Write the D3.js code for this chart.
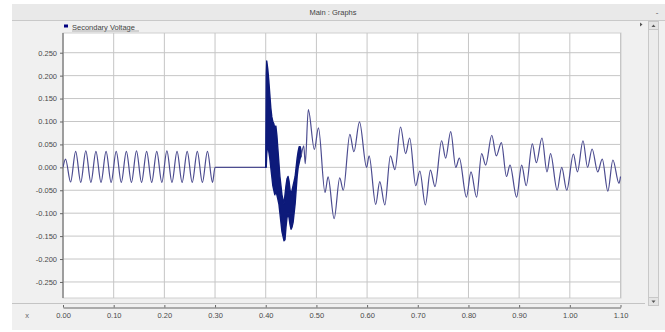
<!DOCTYPE html>
<html>
<head>
<meta charset="utf-8">
<script src="https://cdn.jsdelivr.net/npm/d3@7"></script>
<style>
  html, body { margin: 0; padding: 0; background: #ffffff; }
  svg { display: block; font-family: "Liberation Sans", Arial, sans-serif; }
</style>
</head>
<body>
<svg id="chart" width="665" height="332"></svg>
<script>
// ---------- data ----------
const titleText = "Main : Graphs";
const seriesName = "Secondary Voltage";

const xTickValues = [0, 0.1, 0.2, 0.3, 0.4, 0.5, 0.6, 0.7, 0.8, 0.9, 1.0, 1.1];
const xTickLabels = ["0.00", "0.10", "0.20", "0.30", "0.40", "0.50", "0.60", "0.70", "0.80", "0.90", "1.00", "1.10"];
const yTickValues = [-0.25, -0.2, -0.15, -0.1, -0.05, 0, 0.05, 0.1, 0.15, 0.2, 0.25];
const yTickLabels = ["-0.250", "-0.200", "-0.150", "-0.100", "-0.050", "0.000", "0.050", "0.100", "0.150", "0.200", "0.250"];

// pre-fault steady wave (extrema, seconds / kV)
const preTime = [0, 0.005, 0.015, 0.025, 0.035, 0.045, 0.055, 0.065, 0.075, 0.085, 0.095,
  0.105, 0.115, 0.125, 0.135, 0.145, 0.155, 0.165, 0.175, 0.185, 0.195,
  0.205, 0.215, 0.225, 0.235, 0.245, 0.255, 0.265, 0.275, 0.285, 0.295, 0.300, 0.400];
const preValue = [0, 0.018, -0.032, 0.035, -0.033, 0.036, -0.033, 0.035, -0.033, 0.035, -0.033,
  0.035, -0.033, 0.035, -0.033, 0.036, -0.033, 0.035, -0.033, 0.035, -0.033,
  0.036, -0.033, 0.035, -0.033, 0.035, -0.033, 0.035, -0.033, 0.035, -0.033, 0.0, 0.0];

// fault burst: envelope of the dense high-frequency oscillation
const burstTime = [0.400, 0.401, 0.402, 0.404, 0.406, 0.408, 0.410, 0.412, 0.414, 0.416, 0.418,
  0.420, 0.422, 0.424, 0.426, 0.428, 0.430, 0.432, 0.434, 0.436, 0.438,
  0.440, 0.442, 0.444, 0.446, 0.448, 0.450, 0.452, 0.454, 0.456, 0.458,
  0.460, 0.462, 0.464, 0.466, 0.468, 0.470];
const burstUpper = [0.0, 0.20, 0.232, 0.215, 0.19, 0.16, 0.13, 0.11, 0.10, 0.095, 0.085,
  0.09, 0.07, 0.04, 0.01, -0.02, -0.04, -0.06, -0.07, -0.08, -0.06,
  -0.04, -0.025, -0.02, -0.03, -0.05, -0.06, -0.05, -0.04, -0.03, -0.02,
  0.0, 0.02, 0.035, 0.045, 0.045, 0.035];
const burstLower = [0.0, 0.0, 0.03, 0.05, 0.035, 0.02, 0.0, -0.02, -0.04, -0.05, -0.06,
  -0.05, -0.06, -0.07, -0.08, -0.10, -0.12, -0.14, -0.15, -0.16, -0.158,
  -0.13, -0.11, -0.10, -0.11, -0.125, -0.135, -0.13, -0.12, -0.10, -0.08,
  -0.05, -0.02, 0.0, 0.01, 0.02, 0.025];

// post-fault wave (extrema)
const postTime = [0.470, 0.475, 0.478, 0.484, 0.496, 0.504, 0.517, 0.523, 0.535, 0.546, 0.553,
  0.566, 0.574, 0.585, 0.599, 0.604, 0.617, 0.625, 0.635, 0.646, 0.655,
  0.666, 0.676, 0.684, 0.696, 0.704, 0.715, 0.725, 0.734, 0.747, 0.755,
  0.765, 0.775, 0.782, 0.796, 0.805, 0.816, 0.826, 0.834, 0.846, 0.855,
  0.865, 0.875, 0.882, 0.895, 0.905, 0.914, 0.926, 0.934, 0.945, 0.955,
  0.962, 0.975, 0.984, 0.994, 1.007, 1.015, 1.026, 1.035, 1.044, 1.055,
  1.064, 1.075, 1.085, 1.097, 1.100];
const postValue = [0.025, 0.047, 0.008, 0.126, 0.039, 0.086, -0.055, -0.021, -0.112, -0.023, -0.05,
  0.072, 0.034, 0.099, 0.0, 0.025, -0.081, -0.031, -0.082, 0.025, -0.005,
  0.088, 0.03, 0.064, -0.04, -0.008, -0.082, -0.006, -0.042, 0.058, 0.02,
  0.078, 0.0, 0.02, -0.065, -0.01, -0.065, 0.03, 0.005, 0.07, 0.025,
  0.054, -0.02, 0.005, -0.065, 0.005, -0.04, 0.051, 0.01, 0.064, -0.01,
  0.03, -0.05, 0.0, -0.05, 0.029, -0.01, 0.058, 0.0, 0.04, -0.01,
  0.018, -0.052, 0.016, -0.035, -0.02];

// ---------- drawing ----------
const svg = d3.select("#chart");
const W = 665, H = 332;
const plot = { left: 63, right: 621, top: 33, bottom: 298 };

const x = d3.scaleLinear().domain([0, 1.1]).range([plot.left, plot.right - 0.5]);
const y = d3.scaleLinear().domain([-0.285, 0.293]).range([plot.bottom, plot.top]);

// window backgrounds
svg.append("rect").attr("x", 0).attr("y", 0).attr("width", W).attr("height", H).attr("fill", "#ffffff");
svg.append("rect").attr("x", 12).attr("y", 4).attr("width", W - 12).attr("height", H - 6).attr("fill", "#f0f0f0");
// title bar
svg.append("rect").attr("x", 12).attr("y", 4).attr("width", W - 12).attr("height", 16).attr("fill", "#e9e9e9");
svg.append("line").attr("x1", 12).attr("x2", W).attr("y1", 20.5).attr("y2", 20.5).attr("stroke", "#c9c9c9");
svg.append("text").attr("x", 333).attr("y", 15).attr("text-anchor", "middle")
  .attr("font-size", 7.5).attr("fill", "#444").text(titleText);
svg.append("text").attr("x", 657).attr("y", 15).attr("text-anchor", "middle")
  .attr("font-size", 8).attr("fill", "#555").text("-");

// legend row
svg.append("rect").attr("x", 64).attr("y", 24.5).attr("width", 4).attr("height", 3).attr("fill", "#000080");
svg.append("text").attr("x", 72).attr("y", 29.5).attr("font-size", 7.5).attr("fill", "#444").text(seriesName);
svg.append("line").attr("x1", 72).attr("x2", 139).attr("y1", 31).attr("y2", 31).attr("stroke", "#888").attr("stroke-width", 0.6);

// plot area
svg.append("rect").attr("x", plot.left).attr("y", plot.top)
  .attr("width", plot.right - plot.left).attr("height", plot.bottom - plot.top)
  .attr("fill", "#ffffff").attr("stroke", "#d0d0d0");

// grid
svg.append("g").selectAll("line").data(xTickValues).join("line")
  .attr("x1", d => x(d)).attr("x2", d => x(d)).attr("y1", plot.top).attr("y2", plot.bottom)
  .attr("stroke", "#c6c6c6").attr("stroke-width", 1);
svg.append("g").selectAll("line").data(yTickValues).join("line")
  .attr("x1", plot.left).attr("x2", plot.right).attr("y1", d => y(d)).attr("y2", d => y(d))
  .attr("stroke", "#c6c6c6").attr("stroke-width", 1);

// y axis
const yAxis = d3.axisLeft(y).tickValues(yTickValues)
  .tickFormat((d, i) => yTickLabels[i]).tickSize(3).tickPadding(3);
const gy = svg.append("g").attr("transform", `translate(${plot.left},0)`).call(yAxis);
gy.select(".domain").attr("stroke", "#666").attr("d", `M0,${plot.top}V${plot.bottom}`);
gy.selectAll(".tick line").attr("stroke", "#666");
gy.selectAll(".tick text").attr("font-size", 7.5).attr("fill", "#4a4a4a")
  .attr("font-family", "Liberation Sans, Arial, sans-serif");

// x axis strip
svg.append("line").attr("x1", 12).attr("x2", 645).attr("y1", 303.5).attr("y2", 303.5).attr("stroke", "#c4c4c4");
const xAxis = d3.axisBottom(x).tickValues(xTickValues)
  .tickFormat((d, i) => xTickLabels[i]).tickSize(0).tickPadding(5);
const gx = svg.append("g").attr("transform", `translate(0,307.5)`).call(xAxis);
gx.select(".domain").attr("stroke", "#666");
gx.selectAll(".tick text").attr("font-size", 7.5).attr("fill", "#4a4a4a")
  .attr("font-family", "Liberation Sans, Arial, sans-serif");
gx.selectAll(".tick").append("line").attr("y1", -2.5).attr("y2", 0).attr("stroke", "#666");
svg.append("text").attr("x", 27).attr("y", 318).attr("text-anchor", "middle")
  .attr("font-size", 7.5).attr("fill", "#666").text("x");

// scrollbar on right
svg.append("rect").attr("x", 648.5).attr("y", 21.5).attr("width", 10).attr("height", 284)
  .attr("fill", "#ececec").attr("stroke", "#c8c8c8");
svg.append("rect").attr("x", 648.5).attr("y", 21.5).attr("width", 10).attr("height", 8)
  .attr("fill", "#e4e4e4").attr("stroke", "#c8c8c8");
svg.append("rect").attr("x", 648.5).attr("y", 297.5).attr("width", 10).attr("height", 8)
  .attr("fill", "#e4e4e4").attr("stroke", "#c8c8c8");
svg.append("path").attr("d", "M651.5,27L653.5,24.5L655.5,27Z").attr("fill", "#555");
svg.append("path").attr("d", "M651.5,300.5L653.5,303L655.5,300.5Z").attr("fill", "#555");
svg.append("path").attr("d", "M640,22.5L642.5,24.5L640,26.5Z").attr("fill", "#555");

// series
const clip = svg.append("clipPath").attr("id", "clip").append("rect")
  .attr("x", plot.left).attr("y", plot.top).attr("width", plot.right - plot.left).attr("height", plot.bottom - plot.top);
const gs = svg.append("g").attr("clip-path", "url(#clip)");
const lineColor = "#4c4c90";

const preData = preTime.map((t, i) => [t, preValue[i]]);
const postData = postTime.map((t, i) => [t, postValue[i]]);
const burstData = burstTime.map((t, i) => ({ t, hi: burstUpper[i], lo: burstLower[i] }));

const line = d3.line().x(d => x(d[0])).y(d => y(d[1])).curve(d3.curveMonotoneX);
const area = d3.area().x(d => x(d.t)).y0(d => y(d.lo)).y1(d => y(d.hi)).curve(d3.curveLinear);

gs.append("path").datum(preData).attr("d", line)
  .attr("fill", "none").attr("stroke", lineColor).attr("stroke-width", 1.2);
gs.append("path").datum(burstData).attr("d", area)
  .attr("fill", "#0d1a7a").attr("stroke", "#0d1a7a").attr("stroke-width", 1.4).attr("stroke-linejoin", "round");
gs.append("path").datum(postData).attr("d", line)
  .attr("fill", "none").attr("stroke", lineColor).attr("stroke-width", 1.2);
</script>
</body>
</html>
